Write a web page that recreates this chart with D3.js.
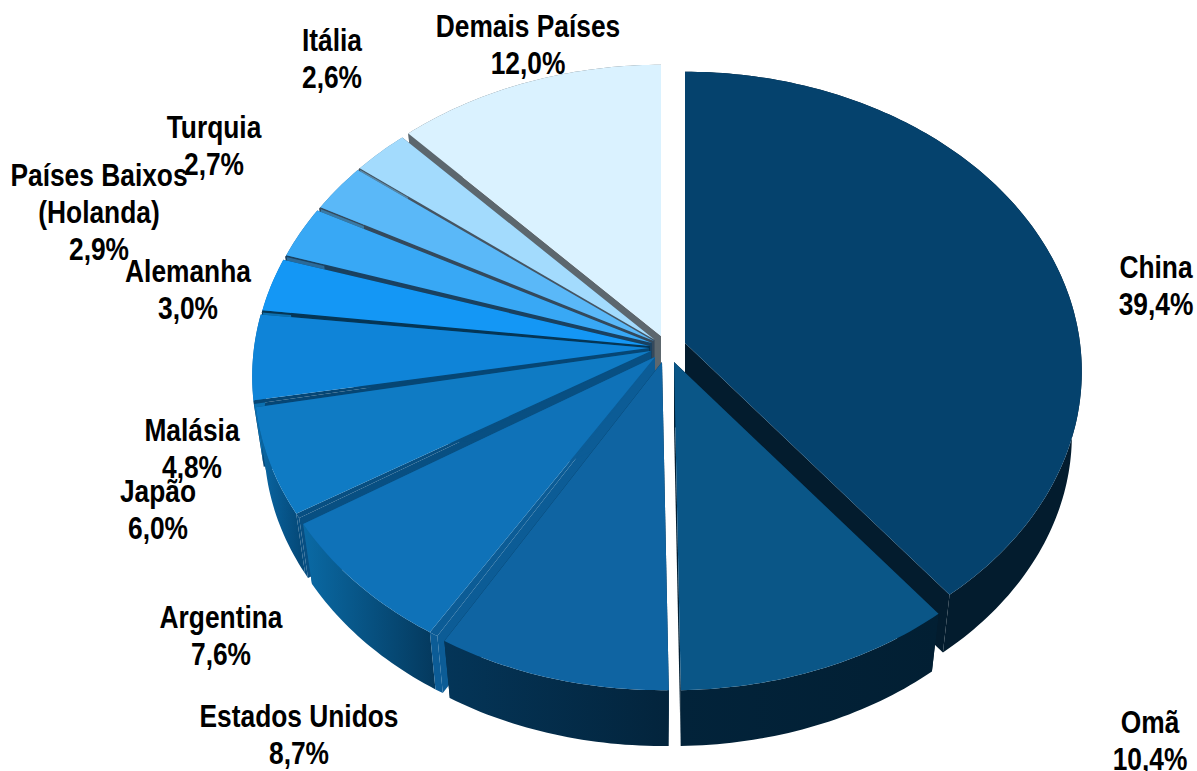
<!DOCTYPE html>
<html>
<head>
<meta charset="utf-8">
<style>
  html, body { margin: 0; padding: 0; background: #fff; overflow: hidden; }
  text { font-family: "Liberation Sans", Arial, sans-serif; font-weight: bold; fill: #000; }
</style>
<script src="https://cdn.jsdelivr.net/npm/d3@7"></script>
</head>
<body>
<svg id="chart" width="1197" height="771"></svg>
<script>
const categories = ['China', 'Omã', 'Estados Unidos', 'Argentina', 'Japão', 'Malásia', 'Alemanha', 'Países Baixos (Holanda)', 'Turquia', 'Itália', 'Demais Países'];
const shares = [39.4, 10.4, 8.7, 7.6, 6.0, 4.8, 3.0, 2.9, 2.7, 2.6, 12.0];

const faceColors = ['#05426d', '#0a5687', '#0f64a2', '#0f72b8', '#0f7bc4', '#0f84d8', '#1497f5', '#38a8f5', '#5ab8f8', '#a3dbfd', '#daf2ff'];
const cutColors = ['#031c2e', '#021f33', '#032a45', '#0c5c96', '#084f82', '#064674', '#053656', '#1a4160', '#34495c', '#465562', '#5c676e'];
const wallLeft = ['#031c2e', '#02233a', '#043558', '#0a6aa5', '#0a6aa8', '#0b70b0', '#0b70b0', '#2a6a9a', '#3a7aa5', '#5a8aa8', '#5c676e'];
const wallRight = ['#031c2e', '#021f33', '#03243c', '#04385c', '#054a7a', '#0b70b0', '#0b70b0', '#2a6a9a', '#3a7aa5', '#5a8aa8', '#5c676e'];

// explosion of each slice from the pie centre, px
const explode = [[35, -4], [24, 15], [12, 15], [5, 10], [1, 4], [-1, 1], [0, -1], [2, -4], [4, -6], [5, -7], [11, -11]];
// dark wedge kept between a slice and its neighbour, degrees
const cutPad = [0, 0, 0, 1.2, 0.9, 0.7, 0.45, 0.35, 0.3, 0.25, 0];

// label lines with anchor point (middle of the text block)
const labelLines = [['China', '39,4%'], ['Omã', '10,4%'], ['Estados Unidos', '8,7%'], ['Argentina', '7,6%'], ['Japão', '6,0%'], ['Malásia', '4,8%'], ['Alemanha', '3,0%'], ['Países Baixos', '(Holanda)', '2,9%'], ['Turquia', '2,7%'], ['Itália', '2,6%'], ['Demais Países', '12,0%']];
const labelPos = [[1156, 286], [1150, 741], [299, 735], [221, 636], [158, 510], [192, 449], [188, 290], [99, 212], [214, 146], [332, 59], [528, 45]];

const cx = 650, cy = 347;
const Rx = 395, Ry = 297, persp = 0.095;
const wallShrink = 0.975, wallDrop = 64;

const svg = d3.select('#chart');
const defs = svg.append('defs');
const line = d3.line().x(d => d[0]).y(d => d[1]);

// pie angle -> plane coordinates in perspective, relative to slice apex
function project(a, r, lower) {
  const u = Math.sin(a) * r, v = -Math.cos(a) * r;
  const s = 1 / (1 - persp * v) * (lower ? wallShrink : 1);
  return [Rx * u * s, Ry * v * s + (lower ? wallDrop : 0)];
}
const rad = d => d * Math.PI / 180;

const pie = d3.pie().value(d => d).sort(null);
const arcs = pie(shares);

function rim(a0, a1, lower) {
  const n = Math.max(2, Math.ceil((a1 - a0) / rad(1)));
  return d3.range(n + 1).map(i => project(a0 + (a1 - a0) * i / n, 1, lower));
}

function drawSlice(i) {
  const d = arcs[i];
  const g = svg.append('g').attr('transform', `translate(${cx + explode[i][0]},${cy + explode[i][1]})`);
  const a0 = d.startAngle, a1 = d.endAngle, mid = a0 + rad(cutPad[i]);
  const apexTop = [0, 0], apexLow = [0, wallDrop];

  // cut faces
  [a0, a1].forEach(a => {
    g.append('path')
      .attr('d', line([apexTop, project(a, 1, false), project(a, 1, true), apexLow]) + 'Z')
      .attr('fill', cutColors[i]);
  });

  // outer wall
  const gradId = 'wall' + i;
  const xs = rim(a0, a1, false).map(p => p[0]);
  const grad = defs.append('linearGradient').attr('id', gradId)
    .attr('gradientUnits', 'userSpaceOnUse')
    .attr('x1', d3.min(xs)).attr('x2', d3.max(xs)).attr('y1', 0).attr('y2', 0);
  grad.append('stop').attr('offset', 0).attr('stop-color', wallLeft[i]);
  grad.append('stop').attr('offset', 1).attr('stop-color', wallRight[i]);
  g.append('path')
    .attr('d', line(rim(mid, a1, false).concat(rim(mid, a1, true).reverse())) + 'Z')
    .attr('fill', `url(#${gradId})`);

  // wedge of the cut
  if (cutPad[i] > 0) {
    g.append('path')
      .attr('d', line(rim(a0, mid, false).concat(rim(a0, mid, true).reverse())) + 'Z')
      .attr('fill', cutColors[i]);
    g.append('path')
      .attr('d', line([apexTop].concat(rim(a0, mid, false))) + 'Z')
      .attr('fill', cutColors[i]);
  }

  // top face
  g.append('path')
    .attr('d', line([apexTop].concat(rim(mid, a1, false))) + 'Z')
    .attr('fill', faceColors[i]);
}

// back to front
[10, 9, 8, 7, 6, 5, 4, 3, 2, 0, 1].forEach(drawSlice);

// labels
const lineHeight = 37, labelSize = 31, squeeze = 0.85;
const labels = svg.append('g').selectAll('g').data(categories).join('g')
  .attr('transform', (d, i) => `translate(${labelPos[i][0]},${labelPos[i][1]}) scale(${squeeze},1)`);
labels.each(function (d, i) {
  const lines = labelLines[i];
  d3.select(this).selectAll('text').data(lines).join('text')
    .attr('text-anchor', 'middle')
    .attr('font-size', labelSize)
    .attr('y', (t, j) => (j - (lines.length - 1) / 2) * lineHeight + labelSize * 0.35)
    .text(t => t);
});
</script>
</body>
</html>
